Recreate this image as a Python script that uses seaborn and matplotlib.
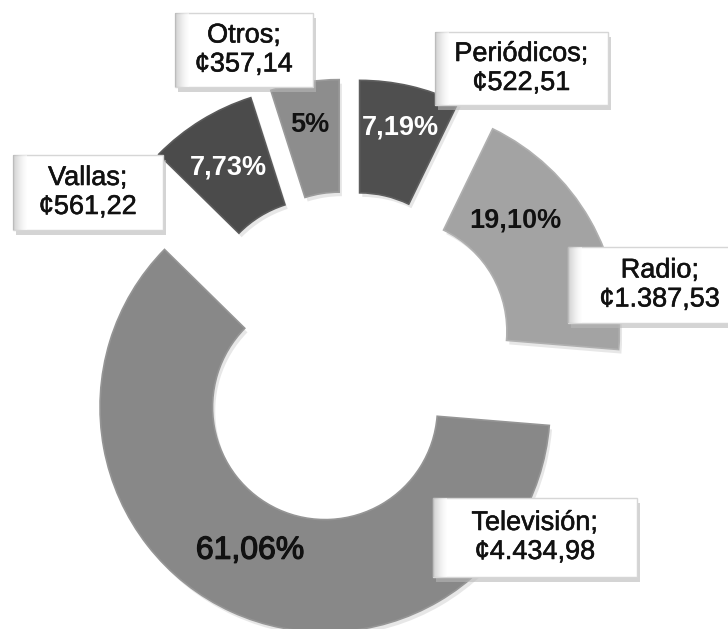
import numpy as np
import matplotlib
matplotlib.use("Agg")
import matplotlib.pyplot as plt
import matplotlib.patheffects as pe
import seaborn as sns
from matplotlib.patches import Rectangle

# ---------------- data ----------------
categories = ["Periódicos", "Radio", "Televisión", "Vallas", "Otros"]
amounts = [522.51, 1387.53, 4434.98, 561.22, 357.14]
amount_labels = ["¢522,51", "¢1.387,53", "¢4.434,98", "¢561,22", "¢357,14"]
pct_labels = ["7,19%", "19,10%", "61,06%", "7,73%", "5%"]

# ---------------- style ----------------
sns.set_theme(style="white")
plt.rcParams["font.family"] = ["Liberation Sans", "DejaVu Sans"]

colors = ["#4f4f4f", "#a3a3a3", "#888888", "#4b4b4b", "#8d8d8d"]
edge_colors = ["#5e5e5e", "#b0b0b0", "#959595", "#5a5a5a", "#9a9a9a"]

W, H = 728, 629
fig = plt.figure(figsize=(W / 100, H / 100), dpi=100)
ax = fig.add_axes([0, 0, 1, 1])

# layout: pixel position of donut centre and pixel radius
CX, CY, SC = 347.5, 358.0, 225.0


def px(x, y):
    return (x - CX) / SC, (CY - y) / SC


explode = [0.24] * len(amounts)

# soft shadow
ax.pie(amounts, radius=1.0, startangle=90, counterclock=False, explode=explode,
       center=(0.012, -0.018), colors=["#d4d4d4"] * len(amounts),
       wedgeprops=dict(width=0.5, linewidth=0, alpha=0.55))

wedges, _ = ax.pie(amounts, radius=1.0, startangle=90, counterclock=False,
                   explode=explode, colors=colors,
                   wedgeprops=dict(width=0.5, linewidth=1.2))
for w, ec in zip(wedges, edge_colors):
    w.set_edgecolor(ec)

# percentage labels, placed from each wedge's own geometry
rfrac = [0.81, 0.73, 0.72, 0.76, 0.81]
ang_off = [0.0, 12.6, -3.0, 0.4, 0.3]
pct_colors = ["white", "#111111", "#111111", "white", "#111111"]
for w, lab, rf, ao, c in zip(wedges, pct_labels, rfrac, ang_off, pct_colors):
    mid = np.deg2rad((w.theta1 + w.theta2) / 2 + ao)
    cx, cy = w.center
    x = cx + rf * w.r * np.cos(mid)
    y = cy + rf * w.r * np.sin(mid)
    big = lab == "61,06%"
    ptxt = ax.text(x, y, lab, ha="center", va="center", color=c,
                   family="Liberation Sans",
                   fontsize=23 if big else 19.5,
                   weight=400 if big else 700, zorder=5)
    if big:
        ptxt.set_path_effects([pe.withStroke(linewidth=0.9, foreground=c)])

# category label boxes (pixel extents: left, top, right, bottom)
boxes = {
    "Periódicos": (435, 32, 608, 105),
    "Radio": (568, 247, 752, 323),
    "Televisión": (433, 498, 637, 577),
    "Vallas": (13, 155, 163, 230),
    "Otros": (175, 13, 313, 87),
}

grad = np.linspace(0, 1, 64).reshape(1, -1)
for cat, amt in zip(categories, amount_labels):
    bl, bt, br, bb = boxes[cat]
    x0, y1 = px(bl, bt)
    x1, y0 = px(br, bb)
    # drop shadow
    ax.add_patch(Rectangle((x0 + 3 / SC, y0 - 5 / SC), x1 - x0, y1 - y0,
                           facecolor="#b8b8b8", edgecolor="none", alpha=0.6,
                           zorder=6))
    ax.add_patch(Rectangle((x0, y0), x1 - x0, y1 - y0, facecolor="white",
                           edgecolor="#d6d6d6", linewidth=1.0, zorder=7))
    # left bevel gradient
    bw = 14 / SC
    ax.imshow(grad, extent=(x0, x0 + bw, y0, y1), cmap="Greys_r",
              vmin=-1.2, vmax=1, aspect="auto", zorder=7.5, alpha=0.55,
              interpolation="bilinear")
    txt = ax.text((x0 + x1) / 2, (y0 + y1) / 2, f"{cat};\n{amt}", ha="center",
                  va="center", fontsize=19.5, color="#111111", linespacing=1.15,
                  zorder=8)
    txt.set_path_effects([pe.withStroke(linewidth=0.4, foreground="#111111")])

ax.set_xlim(-CX / SC, (W - CX) / SC)
ax.set_ylim((CY - H) / SC, CY / SC)
ax.set_aspect("auto")
ax.axis("off")

fig.savefig("out.png", dpi=100, facecolor="white")
